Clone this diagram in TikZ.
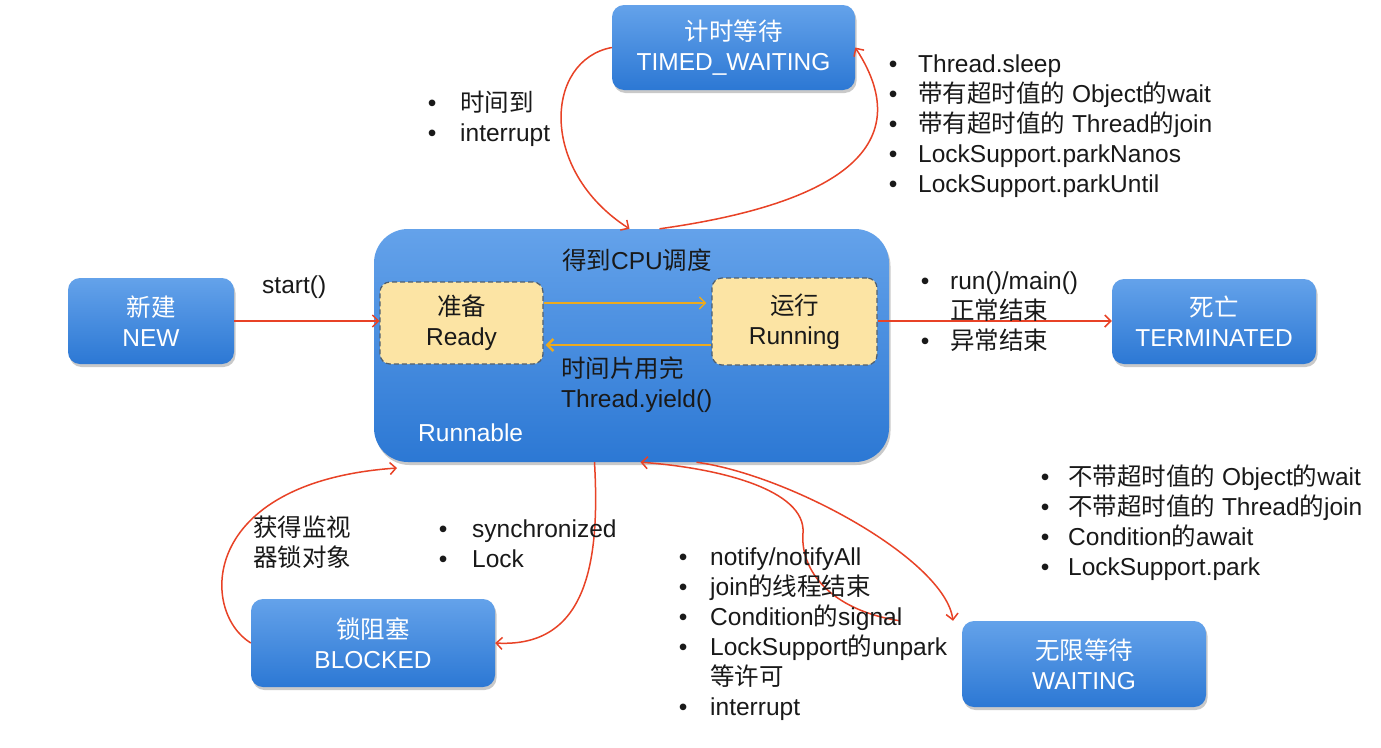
\documentclass[tikz,border=0pt]{standalone}
\usepackage{fontspec}
\setmainfont{Liberation Sans}
\newfontfamily\zhfont{Noto Sans CJK SC}
\newcommand\zh[1]{{\zhfont #1}}
\newcommand\dgfont{\fontsize{24.5}{30}\selectfont}
\newlength\bw
\newcommand\bi{\makebox[\bw][l]{•}}
\usetikzlibrary{arrows.meta,shadows}

\definecolor{boxtop}{RGB}{100,162,234}
\definecolor{boxbot}{RGB}{44,120,212}
\definecolor{redline}{RGB}{232,66,38}
\definecolor{gold}{RGB}{236,170,30}
\definecolor{readyfill}{RGB}{252,228,164}
\definecolor{dashc}{RGB}{80,95,110}
\definecolor{ink}{RGB}{25,25,25}

\tikzset{
  state/.style={rectangle, rounded corners=12pt, top color=boxtop, bottom color=boxbot,
    draw=none, text=white, align=center, font=\dgfont, inner sep=0pt,
    drop shadow={shadow xshift=1.5pt, shadow yshift=-3pt, opacity=0.35, fill=black!60}},
  substate/.style={rectangle, rounded corners=10pt, fill=readyfill, draw=dashc, dashed,
    dash pattern=on 5pt off 3pt, line width=1.2pt, text=ink, align=center, font=\dgfont, inner sep=0pt},
  flow/.style={draw=redline, line width=1.5pt, -{Straight Barb[length=6pt,width=12pt,line width=1.5pt]}},
  inner/.style={draw=gold, -{Straight Barb[length=6pt,width=12pt]}},
  txt/.style={font=\dgfont, text=ink, inner sep=0pt},
  blist/.style={txt, anchor=base west, execute at begin node={\setlength{\bw}{#1}}},
}

\begin{document}
\begin{tikzpicture}[x=1pt,y=1pt]
\useasboundingbox (0,0) rectangle (1381,-747);
\fill[white] (0,0) rectangle (1381,-747);

% states
\node[state, rounded corners=34pt, minimum width=515pt, minimum height=233pt] (run) at (631.5,-345.5) {};
\node[state, minimum width=243pt, minimum height=85pt] (tw) at (733.5,-47.5) {\zh{计时等待}\\TIMED\_WAITING};
\node[state, minimum width=166pt, minimum height=86pt] (new) at (151,-321) {\zh{新建}\\NEW};
\node[state, minimum width=204pt, minimum height=85pt] (term) at (1214,-321.5) {\zh{死亡}\\TERMINATED};
\node[state, minimum width=244pt, minimum height=88pt] (blk) at (373,-643) {\zh{锁阻塞}\\BLOCKED};
\node[state, minimum width=244pt, minimum height=86pt] (wait) at (1084,-664) {\zh{无限等待}\\WAITING};

% sub-states inside Runnable
\node[substate, minimum width=163pt, minimum height=82pt] (ready) at (461.5,-323) {\zh{准备}\\Ready};
\node[substate, minimum width=165pt, minimum height=87pt] (running) at (794.5,-321.5) {\zh{运行}\\Running};

\node[txt, anchor=base] (cpu) at (637,-269) {\zh{得到}CPU\zh{调度}};
\node[txt, anchor=base west] (yld) at (561,-377) {\begin{tabular}[t]{@{}l@{}}\zh{时间片用完}\\Thread.yield()\end{tabular}};
\node[txt, text=white, anchor=base west] (rlab) at (418,-441) {Runnable};

% transitions inside Runnable
\draw[inner, line width=1.5pt] ([yshift=20pt]ready.east) -- ([xshift=-5pt,yshift=18.5pt]running.west);
\draw[inner, line width=2.5pt] ([yshift=-23.5pt]running.west) -- ([xshift=2pt,yshift=-22pt]ready.east);

% transitions between states
\draw[flow] (new.east) -- (new.east -| ready.west);
\draw[flow] ([yshift=0.5pt]running.east) -- ([yshift=0.5pt]running.east -| term.west);
\draw[flow] (tw.west) .. controls (545,-60) and (538,-170) .. ([xshift=-2pt]run.north);
\draw[flow] ([xshift=28pt]run.north) .. controls (830,-205) and (922,-150) .. (tw.east);
\draw[flow] ([xshift=-37pt]run.south) .. controls (600,-560) and (588,-648) .. (blk.east);
\coordinate (blkin) at (397,-468);
\draw[flow] (blk.west) .. controls (200,-612) and (198,-482) .. (blkin);
\draw[flow] ([xshift=65pt]run.south) .. controls (790,-475) and (945,-560) .. ([xshift=-131pt]wait.north);
\draw[flow] ([xshift=-184pt]wait.north) .. controls (830,-610) and (800,-570) .. (803,-533)
  .. controls (806,-490) and (720,-468) .. ([xshift=9pt]run.south);

% labels
\node[txt, anchor=base west] (start) at (262,-293) {start()};
\node[blist=32.3pt] (twin) at (427.7,-111) {\begin{tabular}[t]{@{}l@{}}\bi\zh{时间到}\\\bi interrupt\end{tabular}};
\node[blist=29.3pt] (twout) at (888.7,-72) {\begin{tabular}[t]{@{}l@{}}
  \bi Thread.sleep\\
  \bi\zh{带有超时值的} Object\zh{的}wait\\
  \bi\zh{带有超时值的} Thread\zh{的}join\\
  \bi LockSupport.parkNanos\\
  \bi LockSupport.parkUntil\end{tabular}};
\node[blist=29.3pt] (endl) at (920.7,-289) {\begin{tabular}[t]{@{}l@{}}
  \bi run()/main()\\
  \hspace{\bw}\zh{正常结束}\\
  \bi\zh{异常结束}\end{tabular}};
\node[txt, anchor=base west] (mon) at (253,-536) {\begin{tabular}[t]{@{}l@{}}\zh{获得监视}\\\zh{器锁对象}\end{tabular}};
\node[blist=33.3pt] (sync) at (438.7,-537) {\begin{tabular}[t]{@{}l@{}}\bi synchronized\\\bi Lock\end{tabular}};
\node[blist=31.3pt] (wout) at (678.7,-565) {\begin{tabular}[t]{@{}l@{}}
  \bi notify/notifyAll\\
  \bi join\zh{的线程结束}\\
  \bi Condition\zh{的}signal\\
  \bi LockSupport\zh{的}unpark\\
  \hspace{\bw}\zh{等许可}\\
  \bi interrupt\end{tabular}};
\node[blist=27.3pt] (win) at (1040.7,-485) {\begin{tabular}[t]{@{}l@{}}
  \bi\zh{不带超时值的} Object\zh{的}wait\\
  \bi\zh{不带超时值的} Thread\zh{的}join\\
  \bi Condition\zh{的}await\\
  \bi LockSupport.park\end{tabular}};
\end{tikzpicture}
\end{document}
